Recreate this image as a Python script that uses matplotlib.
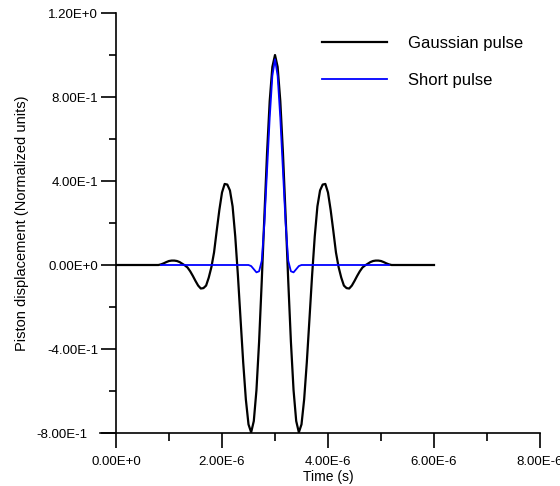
import matplotlib

matplotlib.use("Agg")

import matplotlib.pyplot as plt
import numpy as np

plt.rcParams["font.family"] = ["Liberation Sans", "DejaVu Sans"]

# sample grid (s)
STEP = 0.05e-6
GAUSS_START = 0.8e-6
SHORT_START = 2.5e-6
TRACE_END = 6.0e-6
SHORT_EDGES = (0.85e-6, 5.15e-6)

gaussian_pulse = [
    0.000, 0.003, 0.008, 0.014, 0.019, 0.021, 0.021, 0.019, 0.014, 0.006,
    -0.002, -0.012, -0.030, -0.052, -0.076, -0.098, -0.112, -0.110, -0.098, -0.060,
    -0.010, 0.060, 0.163, 0.262, 0.345, 0.386, 0.383, 0.355, 0.279, 0.136,
    -0.049, -0.258, -0.464, -0.640, -0.759, -0.797, -0.743, -0.596, -0.365, -0.077,
    0.235, 0.534, 0.781, 0.943,
    1.000,
    0.943, 0.781, 0.534, 0.235, -0.077, -0.365, -0.596, -0.743, -0.797, -0.759,
    -0.640, -0.464, -0.258, -0.049, 0.136, 0.279, 0.355, 0.383, 0.386, 0.345,
    0.262, 0.163, 0.060, -0.010, -0.060, -0.098, -0.110, -0.112, -0.098, -0.076,
    -0.052, -0.030, -0.012, -0.002, 0.006, 0.014, 0.019, 0.021, 0.021, 0.019,
    0.014, 0.008, 0.003, 0.000,
]

short_pulse = [
    0.000, -0.005, -0.020, -0.035, -0.030, 0.020, 0.200, 0.450, 0.700, 0.900,
    0.980,
    0.900, 0.700, 0.450, 0.200, 0.020, -0.030, -0.035, -0.020, -0.005, 0.000,
]

x_major = [0.0, 2e-6, 4e-6, 6e-6, 8e-6]
x_minor = [1e-6, 3e-6, 5e-6, 7e-6]
y_major = [-0.8, -0.4, 0.0, 0.4, 0.8, 1.2]
y_minor = [-0.6, -0.2, 0.2, 0.6, 1.0]


def _sci_tick(value: float, _position: int = 0) -> str:
    if abs(value) < 1e-15:
        value = 0.0
    mant, exp = f"{value:.2E}".split("E")
    return f"{mant}E{int(exp):+d}"


g_time = GAUSS_START + STEP * np.arange(len(gaussian_pulse))
g_time = np.concatenate([[0.0], g_time, [TRACE_END]])
g_vals = np.concatenate([[0.0], gaussian_pulse, [0.0]])

s_time = SHORT_START + STEP * np.arange(len(short_pulse))
s_time = np.concatenate([[SHORT_EDGES[0]], s_time, [SHORT_EDGES[1]]])
s_vals = np.concatenate([[0.0], short_pulse, [0.0]])

fig = plt.figure(figsize=(5.6, 4.86), dpi=100)
ax = fig.add_axes([116 / 560, 1 - 433 / 486, 424 / 560, 420 / 486])

ax.plot(g_time, g_vals, color="black", linewidth=1.6, label="Gaussian pulse")
ax.plot(s_time, s_vals, color="#0000FF", linewidth=1.3, label="Short pulse")

ax.set_xlim(0, 8e-6)
ax.set_ylim(-0.8, 1.2)
ax.set_xticks(x_major)
ax.set_xticks(x_minor, minor=True)
ax.set_yticks(y_major)
ax.set_yticks(y_minor, minor=True)
ax.set_xticklabels([_sci_tick(v) for v in x_major])
ax.set_yticklabels([_sci_tick(v) for v in y_major])

for side in ("top", "right"):
    ax.spines[side].set_visible(False)
for side in ("left", "bottom"):
    ax.spines[side].set_linewidth(1.2)
# x axis line runs a little past the y axis, as in the original
ax.spines["bottom"].set_bounds(-0.3e-6, 8e-6)

ax.tick_params(which="major", direction="out", length=10.8, width=1.2, labelsize=9.5)
ax.tick_params(which="minor", direction="out", length=5.4, width=1.2)
ax.tick_params(axis="x", which="major", pad=6)
ax.tick_params(axis="y", which="major", pad=2)
ax.get_yticklabels()[0].set_x(-0.025)

ax.set_xlabel("Time (s)", fontsize=10, labelpad=1)
ax.set_ylabel("Piston displacement (Normalized units)", fontsize=10.5)
ax.yaxis.set_label_coords(-0.205, 0.5)

ax.legend(
    loc="upper left",
    bbox_to_anchor=(322 / 560, 1 - 36 / 486),
    bbox_transform=fig.transFigure,
    frameon=False,
    fontsize=12,
    borderpad=0,
    borderaxespad=0,
    handlelength=3.9,
    handletextpad=1.25,
    labelspacing=1.3,
)

fig.savefig("out.png", dpi=100)
plt.close(fig)
